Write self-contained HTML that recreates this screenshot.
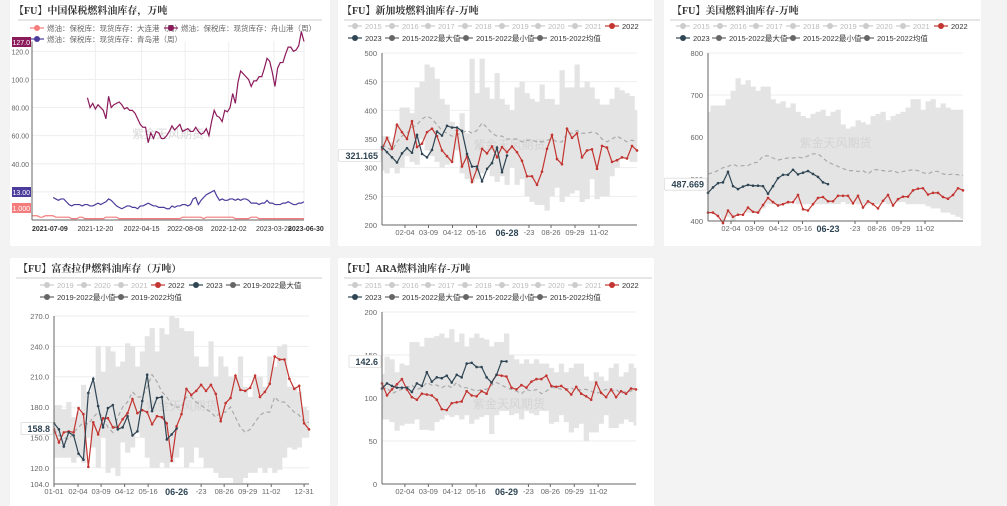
<!DOCTYPE html>
<html><head><meta charset="utf-8">
<style>
html,body{margin:0;padding:0;background:#f3f3f3;}
svg{display:block;font-family:"Liberation Sans","Noto Sans CJK SC",sans-serif;}
</style></head>
<body>
<svg id="s" width="1007" height="506" viewBox="0 0 1007 506" xmlns="http://www.w3.org/2000/svg"></svg>
<script>
// ---- Chart 1: China bonded ----
const c1Purple = [87,80,83,79,82,80,78,72,88,80,82,83,84,82,79,80,78,78,76,72,68,66,66,55,62,58,63,62,58,58,60,63,67,64,66,68,63,64,65,63,63,66,63,61,62,65,60,70,78,74,73,70,78,77,80,90,83,98,106,104,102,100,95,99,99,102,102,108,115,113,105,95,108,112,112,118,123,123,120,121,124,134,127];
const c1Blue = [16,15,14,15,15,13,11,10,11,11,11,10,11,11,10,10,11,12,11,12,13,15,14,12,10,9,8,9,10,10,9,9,8,10,10,11,12,11,10,10,9,9,9,8,8,10,9,10,10,11,11,10,11,15,16,11,14,16,18,19,20,21,17,14,15,14,14,15,15,14,15,14,15,15,14,12,12,12,11,12,12,14,12,12,11,11,11,12,12,13,12,11,11,12,12,13];
const c1Red = [3,3,3,2,2,3,3,3,3,2,2,2,2,2,2,1,1,1,2,2,1,1,1,1,1,1,1,1,2,2,2,2,2,1,1,1,1,1,1,1,1,1,1,1,1,1,1,1,1,1,1,1,1,1,1,1,1,2,2,2,2,2,2,2,2,1,2,2,2,2,2,2,2,2,2,2,2,1,1,1,1,1,1,2,2,2,1,1,1,1,1,1,1,1,1,1,1,1,1,1,1,1,1,1];
const c1Ticks = [20,40,60,80,100,120];
const c1TickLabels = ["20.00","40.00","60.00","80.00","100.0","120.0"];
const c1DateLabels = ["2021-07-09","2021-12-20","2022-04-15","2022-08-08","2022-12-02","2023-03-28","2023-06-30"];
const c1DateIdx = [0,24,41.5,58,74.5,91.6,103];

// ---- Chart 2: Singapore ----
const sgRed = [332,352,333,375,362,350,381,336,342,362,368,355,330,320,310,365,302,320,275,298,333,325,337,318,336,327,337,327,312,285,285,270,293,333,357,315,306,368,352,360,318,330,332,298,338,335,310,313,318,316,338,330];
const sgNavy = [336,327,318,309,325,334,326,357,324,318,331,363,356,373,370,370,364,324,302,302,276,298,308,335,292,321.165];
const sgMax = [355,355,345,375,405,405,395,440,450,480,475,455,420,410,380,370,395,360,490,430,490,440,420,465,420,410,400,440,450,430,420,415,445,420,420,410,470,440,440,480,440,450,440,420,410,410,420,440,435,430,425,400];
const sgMin = [295,290,300,290,300,320,310,305,350,330,320,310,300,305,310,330,290,280,275,280,290,300,285,275,285,270,300,270,280,250,240,235,235,225,250,265,240,250,255,260,240,245,280,245,250,250,285,300,315,315,310,310];
const sgAvg = [340,335,330,345,355,360,370,375,385,390,385,375,365,360,355,358,360,365,360,365,378,370,360,355,355,350,350,350,345,348,348,345,345,348,350,345,345,360,360,365,360,360,362,360,350,345,350,355,350,345,348,345];
const sgTicks = [200,250,300,350,400,450,500];

// ---- Chart 3: US ----
const usRed = [420,420,412,395,425,410,415,415,432,422,420,438,455,445,437,440,445,445,462,428,425,440,455,457,447,447,460,460,460,442,460,432,447,440,430,448,462,437,452,458,458,473,477,478,463,467,467,457,453,462,478,473];
const usNavy = [467,480,490,492,517,483,476,482,486,484,484,483,465,483,502,510,510,522,511,515,519,512,505,492,487.669];
const usMax = [660,675,675,675,690,710,740,725,735,720,710,720,720,690,680,685,670,680,660,650,645,655,660,665,650,660,665,630,620,625,640,635,630,650,655,660,640,650,655,660,670,690,690,665,685,690,670,680,670,665,665,665];
const usMin = [420,420,415,400,410,400,415,420,420,420,420,430,440,440,440,440,440,450,440,440,440,440,440,440,440,440,440,445,440,445,440,440,440,440,440,445,440,440,445,445,440,440,440,440,435,430,430,420,420,415,410,405];
const usAvg = [512,515,520,527,530,535,530,532,532,538,540,555,555,550,545,548,550,550,552,550,555,560,560,550,540,535,530,525,520,520,518,520,512,522,522,520,518,520,515,518,520,522,520,515,512,518,518,512,510,512,510,508];
const usTicks = [400,500,600,700,800];

// ---- Chart 4: Fujairah ----
const fjRed = [158,145,155,156,155,179,173,121,165,153,169,169,160,160,168,174,188,174,177,175,163,171,170,164,127,161,173,198,192,196,202,196,202,193,166,184,189,211,197,196,199,211,190,195,203,230,227,227,208,198,201,164,158];
const fjNavy = [164,158,141,155,152,134,128,194,208,181,160,179,182,158,160,171,152,156,186,212,176,189,190,148,153,158.8];
const fjMax = [182,182,178,185,170,175,202,195,205,240,215,240,235,220,225,243,240,220,235,250,258,235,258,252,270,268,258,255,255,230,220,220,245,210,230,220,210,210,230,200,190,210,210,200,230,220,240,242,200,200,195,180,177];
const fjMin = [130,130,130,130,125,130,125,150,140,120,150,115,120,112,145,135,140,155,150,130,120,120,125,120,125,130,140,120,125,140,130,120,120,115,110,110,110,105,105,110,115,115,120,115,120,115,118,130,140,138,140,150,150];
const fjAvg = [158,152,150,148,155,160,165,163,170,175,170,160,155,170,180,185,195,190,190,200,212,205,195,190,182,180,180,190,190,185,182,178,175,170,175,175,180,170,160,155,158,165,172,175,175,190,185,185,180,175,172,165,165];
const fjTicks = [104,120,150,180,210,240,270];

// ---- Chart 5: ARA ----
const araRed = [117,103,110,116,122,110,101,98,105,104,103,98,87,86,94,95,96,108,103,102,108,105,118,127,126,125,112,110,115,112,119,122,122,126,114,113,114,110,104,113,105,102,98,118,106,101,110,101,108,105,111,110];
const araNavy = [111,117,114,112,112,112,107,117,114,130,119,124,123,126,118,127,124,140,141,136,136,124,118,127,142.6,142.6];
const araMax = [128,148,145,130,140,138,165,165,160,170,170,172,175,170,180,165,175,160,170,175,170,168,160,165,165,175,150,145,140,145,140,145,140,140,135,130,140,130,135,140,140,125,120,130,125,120,135,140,125,130,140,135];
const araMin = [75,75,72,62,68,70,70,75,63,63,62,72,75,80,78,80,75,80,70,75,78,80,58,80,85,85,80,82,75,85,82,80,85,85,70,72,80,72,60,65,70,50,60,60,70,80,65,65,70,75,72,68];
const araAvg = [110,112,105,108,110,112,115,110,112,118,115,115,112,115,112,118,112,112,110,108,110,110,115,118,115,112,110,108,105,110,108,110,105,108,112,112,110,110,112,108,110,110,108,105,108,110,108,110,105,108,108,110];
const araTicks = [0,50,100,150,200];

const weekLabels = ["02-04","03-09","04-12","05-16","","-23","08-26","09-29","11-02"];
const weekLabelIdx = [4.6,9.3,14.1,18.9,0,29.4,33.8,38.6,43.4];
const fjLabels = ["01-01","02-04","03-09","04-12","05-16","-23","08-26","09-29","11-02","12-31"];
const fjLabelIdx = [0,4.9,9.6,14.4,19.2,30,34.7,39.5,44.3,51];

const NS="http://www.w3.org/2000/svg";
const svg=document.getElementById('s');
function el(tag,attrs,parent){const e=document.createElementNS(NS,tag);for(const k in attrs)e.setAttribute(k,attrs[k]);(parent||svg).appendChild(e);return e;}
function txt(str,attrs,parent){const e=el('text',attrs,parent);e.textContent=str;return e;}

function card(x,y,w,h,name){
  const g=el('g',{});
  
  
  const r=el('rect',{x:x,y:y,width:w,height:h,fill:'#fff'},g);
  
  
  return g;
}
function title(g,x,y,str,lx0,lx1,name){
  const t=txt(str,{x:x,y:y,'font-size':10,'font-weight':'bold',fill:'#333','font-family':'"Liberation Serif","Noto Serif CJK SC",serif'},g);
  
  
  el('line',{x1:lx0,x2:lx1,y1:y+6,y2:y+6,stroke:'#ccc','stroke-width':1},g);
}
function legendItem(g,x,y,label,color,textColor,name){
  const it=el('g',{},g);
  
  
  el('line',{x1:x,x2:x+14,y1:y,y2:y,stroke:color,'stroke-width':1.2},it);
  el('circle',{cx:x+7,cy:y,r:3,fill:color},it);
  txt(label,{x:x+17,y:y+3,'font-size':7.5,fill:textColor},it);
}
function watermark(g,x,y){
  const t=txt('紫金天风期货',{x:x,y:y,'font-size':12,fill:'#d0d0d0','text-anchor':'middle',opacity:0.8},g);
  
  
}

function seasonal(g,c,name){
  const n=c.n;
  const xs=i=>c.x0+i*(c.x1-c.x0)/(n-1);
  const ys=v=>c.yb-(v-c.min)*(c.yb-c.yt)/(c.max-c.min);
  const w=(c.x1-c.x0)/(n-1);
  c.ticks.forEach(v=>{
    el('line',{x1:c.x0,x2:c.x1,y1:ys(v),y2:ys(v),stroke:'#eee','stroke-width':1},g);
    const t=txt(String(c.fmt?c.fmt(v):v),{x:c.x0-5,y:ys(v)+3,'font-size':7.5,fill:'#666','text-anchor':'end'},g);
    
    
  });
  const band=el('g',{},g);
  
  
  c.maxA.forEach((mx,i)=>{
    const l=Math.max(c.x0,xs(i)-w/2), r=Math.min(c.x1,xs(i)+w/2);
    el('rect',{x:l,y:ys(mx),width:r-l+0.3,height:ys(c.minA[i])-ys(mx),fill:'#e4e4e4'},band);
  });
  watermark(g,(c.x0+c.x1)/2,(c.yt+c.yb)/2+10);
  const avg=el('polyline',{points:c.avgA.map((v,i)=>xs(i)+','+ys(v)).join(' '),fill:'none',stroke:'#aaa','stroke-width':1.2,'stroke-dasharray':'4,3'},g);
  
  
  [[c.red,'#c23531','series-2022'],[c.navy,'#2f4554','series-2023']].forEach(([arr,col,nm])=>{
    const s=el('g',{},g);
    
    
    el('polyline',{points:arr.map((v,i)=>xs(i)+','+ys(v)).join(' '),fill:'none',stroke:col,'stroke-width':1.2},s);
    arr.forEach((v,i)=>{
      const p=el('circle',{cx:xs(i),cy:ys(v),r:1.3,fill:col},s);
      
      
    });
  });
  el('line',{x1:c.x0,x2:c.x0,y1:c.yt,y2:c.yb,stroke:'#666','stroke-width':1},g);
  el('line',{x1:c.x0,x2:c.x1,y1:c.yb,y2:c.yb,stroke:'#666','stroke-width':1},g);
  c.xl.forEach((l,k)=>{
    if(!l)return;
    const x=xs(c.xi[k]);
    el('line',{x1:x,x2:x,y1:c.yb,y2:c.yb+3,stroke:'#666'},g);
    const t=txt(l,{x:x,y:c.yb+10,'font-size':7.5,fill:'#666','text-anchor':'middle'},g);
    
    
  });
  const cx=xs(c.navy.length-1);
  const cl=txt(c.cur,{x:cx,y:c.yb+11,'font-size':9,'font-weight':'bold',fill:'#2f4554','text-anchor':'middle'},g);
  
  
  const last=c.navy[c.navy.length-1], ly=ys(last);
  const vs=String(last);
  const bw=vs.length*5.2+6;
  const bx=el('rect',{x:c.x0-bw-1,y:ly-6,width:bw,height:12,fill:'#fff',stroke:'#ddd','stroke-width':0.8,rx:1},g);
  
  
  txt(vs,{x:c.x0-4,y:ly+3.5,'font-size':9,'font-weight':'bold',fill:'#2f4554','text-anchor':'end'},g);
}

const g1=card(10,0,320,246,'china-bonded-card');
const g2=card(338,0,316,246,'singapore-card');
const g3=card(664,0,317,246,'us-card');
const g4=card(10,258,320,248,'fujairah-card');
const g5=card(338,258,316,248,'ara-card');

title(g1,14,14,'【FU】中国保税燃料油库存，万吨',18,322,'chart-title');
legendItem(g1,30,28,'燃油：保税库：现货库存：大连港（周）','#f47c7c','#666','legend-dalian');
legendItem(g1,164,28,'燃油：保税库：现货库存：舟山港（周）','#8b1a5b','#666','legend-zhoushan');
legendItem(g1,30,39,'燃油：保税库：现货库存：青岛港（周）','#4b3c9c','#666','legend-qingdao');
(function(){
  const x0=32,x1=304,yb=220,yt=41.5,max=127,N=104;
  const xs=i=>x0+i*(x1-x0)/(N-1);
  const ys=v=>yb-v*(yb-yt)/max;
  c1Ticks.forEach((v,k)=>{
    el('line',{x1:x0,x2:x1,y1:ys(v),y2:ys(v),stroke:'#eee'},g1);
    const t=txt(c1TickLabels[k],{x:x0-3,y:ys(v)+3,'font-size':7,fill:'#666','text-anchor':'end'},g1);
    
    
  });
  c1DateIdx.forEach((d,k)=>{
    el('line',{x1:xs(d),x2:xs(d),y1:yt,y2:yb,stroke:'#eee'},g1);
    const t=txt(c1DateLabels[k],{x:k==6?288:xs(d),y:231,'font-size':7,fill:'#333','font-weight':(k==0||k==6)?'bold':'normal','text-anchor':k==0?'start':(k==6?'start':'middle')},g1);
    
    
  });
  watermark(g1,168,138);
  [[c1Red,0,'#f47c7c','line-dalian'],[c1Blue,8,'#4b3c9c','line-qingdao'],[c1Purple,21,'#8b1a5b','line-zhoushan']].forEach(([a,st,col,nm])=>{
    const p=el('polyline',{points:a.map((v,i)=>xs(i+st)+','+ys(v)).join(' '),fill:'none',stroke:col,'stroke-width':1.2},g1);
    
    
  });
  el('line',{x1:x0,x2:x0,y1:yt,y2:yb,stroke:'#666'},g1);
  el('line',{x1:x0,x2:x1,y1:yb,y2:yb,stroke:'#666'},g1);
  const tags=[[c1Purple[c1Purple.length-1].toFixed(1),42,'#8b1a5b'],[(13).toFixed(2),192,'#4b3c9c'],[(1).toFixed(3),208,'#f47c7c']];
  tags.forEach(([s,y,col])=>{
    const r=el('rect',{x:12,y:y-5,width:19,height:10,fill:col},g1);
    
    
    txt(s,{x:30,y:y+3,'font-size':7,fill:'#fff','text-anchor':'end'},g1);
  });
})();

function seasonLegend(g,xs1,y1,years,row2,xs2,y2){
  years.forEach((yr,k)=>{
    const act=yr==='2022';
    legendItem(g,xs1[k],y1,yr,act?'#c23531':'#ccc',act?'#333':'#bbb','legend-'+yr);
  });
  row2.forEach((lb,k)=>{
    const c=lb==='2023'?'#2f4554':'#666';
    legendItem(g,xs2[k],y2,lb,c,'#333','legend-'+k);
  });
}
const yrs8=['2015','2016','2017','2018','2019','2020','2021','2022'];
const row2a=['2023','2015-2022最大值','2015-2022最小值','2015-2022均值'];

title(g2,342,14,'【FU】新加坡燃料油库存-万吨',344,652,'chart-title');
seasonLegend(g2,[348,385,421,458,495,531,568,605],26,yrs8,row2a,[348,385,459,533],38);
seasonal(g2,{n:52,x0:382,x1:637,yt:53,yb:225,min:200,max:500,ticks:sgTicks,red:sgRed,navy:sgNavy,maxA:sgMax,minA:sgMin,avgA:sgAvg,xl:weekLabels,xi:weekLabelIdx,cur:'06-28'},'singapore');

title(g3,672,14,'【FU】美国燃料油库存-万吨',670,980,'chart-title');
seasonLegend(g3,[676,713,749,786,823,859,896,934],26,yrs8,row2a,[676,712,786,860],38);
seasonal(g3,{n:52,x0:708,x1:963,yt:53,yb:221,min:400,max:800,ticks:usTicks,red:usRed,navy:usNavy,maxA:usMax,minA:usMin,avgA:usAvg,xl:weekLabels,xi:weekLabelIdx,cur:'06-23'},'us');

title(g4,18,272,'【FU】富查拉伊燃料油库存（万吨）',16,322,'chart-title');
seasonLegend(g4,[40,77,114],285,['2019','2020','2021'],[],[],0);
legendItem(g4,151,285,'2022','#c23531','#333','legend-2022');
legendItem(g4,189,285,'2023','#2f4554','#333','legend-2023');
legendItem(g4,226,285,'2019-2022最大值','#666','#333','legend-max');
legendItem(g4,40,297,'2019-2022最小值','#666','#333','legend-min');
legendItem(g4,114,297,'2019-2022均值','#666','#333','legend-avg');
seasonal(g4,{n:53,x0:54,x1:309,yt:316,yb:484,min:104,max:270,ticks:fjTicks,fmt:v=>v.toFixed(1),red:fjRed,navy:fjNavy,maxA:fjMax,minA:fjMin,avgA:fjAvg,xl:fjLabels,xi:fjLabelIdx,cur:'06-26'},'fujairah');

title(g5,342,272,'【FU】ARA燃料油库存-万吨',344,652,'chart-title');
seasonLegend(g5,[348,385,421,458,495,531,568,605],285,yrs8,row2a,[348,385,459,533],297);
seasonal(g5,{n:52,x0:382,x1:636,yt:312,yb:484,min:0,max:200,ticks:araTicks,red:araRed,navy:araNavy,maxA:araMax,minA:araMin,avgA:araAvg,xl:weekLabels,xi:weekLabelIdx,cur:'06-29'},'ara');
</script>
</body></html>
